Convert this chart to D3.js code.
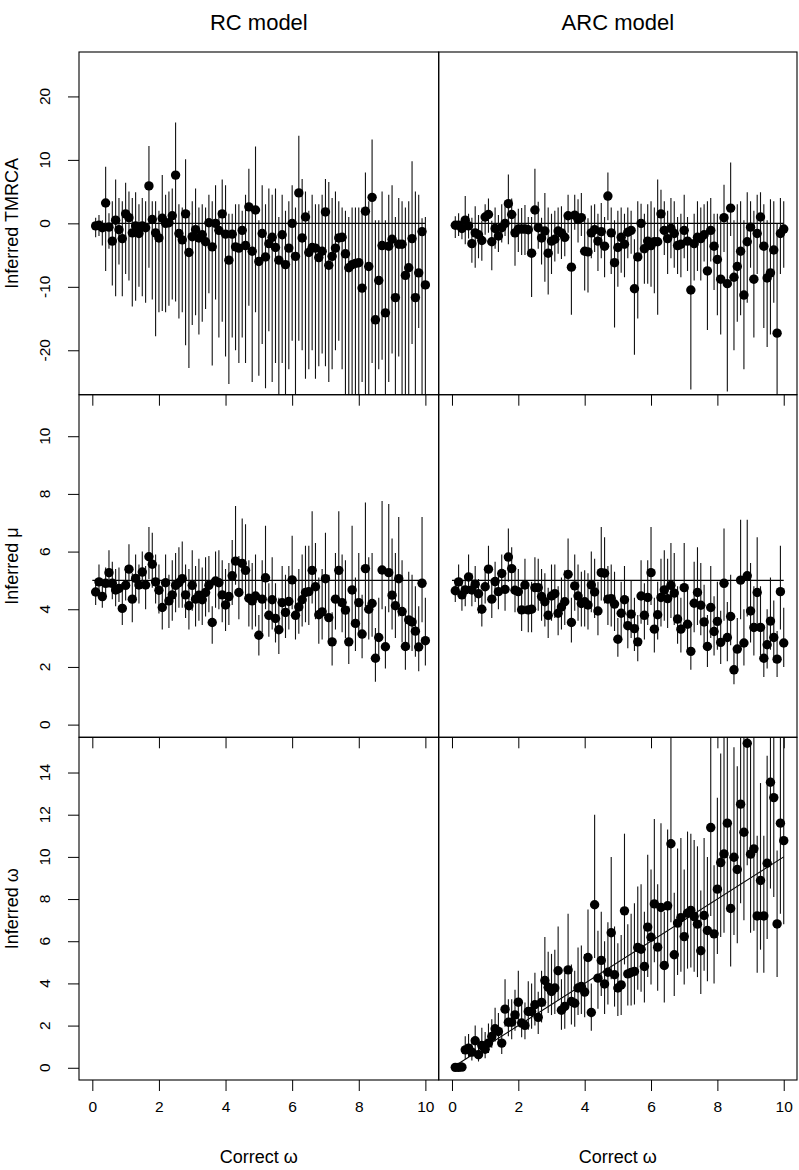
<!DOCTYPE html>
<html><head><meta charset="utf-8">
<script src="https://cdn.jsdelivr.net/npm/d3@7"></script>
<style>body{margin:0;background:#fff}svg{display:block}text{font-family:"Liberation Sans",Arial,sans-serif;fill:#000}</style>
</head><body><svg id="c" width="799" height="1170"></svg>
<script>
const omega = [0.1,0.2,0.3,0.4,0.5,0.6,0.7,0.8,0.9,1.0,1.1,1.2,1.3,1.4,1.5,1.6,1.7,1.8,1.9,2.0,
2.1,2.2,2.3,2.4,2.5,2.6,2.7,2.8,2.9,3.0,3.1,3.2,3.3,3.4,3.5,3.6,3.7,3.8,3.9,4.0,
4.1,4.2,4.3,4.4,4.5,4.6,4.7,4.8,4.9,5.0,5.1,5.2,5.3,5.4,5.5,5.6,5.7,5.8,5.9,6.0,
6.1,6.2,6.3,6.4,6.5,6.6,6.7,6.8,6.9,7.0,7.1,7.2,7.3,7.4,7.5,7.6,7.7,7.8,7.9,8.0,
8.1,8.2,8.3,8.4,8.5,8.6,8.7,8.8,8.9,9.0,9.1,9.2,9.3,9.4,9.5,9.6,9.7,9.8,9.9,10.0];

const rcTmrca = [-0.4,-0.3,-0.7,3.2,-0.6,-2.8,0.5,-1.0,-2.4,1.5,
0.9,-1.5,-0.4,-1.6,-0.4,-0.7,5.9,0.6,-1.5,-2.3,
0.8,0.0,0.1,1.2,7.6,-1.6,-2.6,1.5,-4.6,-2.1,
-1.0,-2.3,-1.8,-2.9,0.1,-3.7,0.0,-1.1,1.5,-1.7,
-5.8,-1.7,-3.7,-3.9,-1.1,-3.5,2.6,-4.4,2.1,-6.0,
-1.6,-5.3,-3.2,-2.2,-3.8,-5.8,-1.8,-6.5,-3.9,0.0,
-5.2,4.8,-2.3,1.0,-4.6,-3.8,-3.9,-5.4,-4.4,1.8,
-6.6,-5.2,-3.9,-2.3,-2.2,-4.8,-7.0,-6.5,-6.3,-6.2,
-10.2,1.9,-6.8,4.1,-15.2,-9.0,-3.5,-14.1,-3.6,-2.5,
-11.7,-3.3,-3.3,-8.2,-7.0,-2.4,-11.7,-7.8,-1.3,-9.7];
const rcTmrcaHi = [0.9,1.3,0.5,8.9,1.6,3.5,6.9,4.0,3.5,6.4,
5.0,4.0,4.9,3.0,4.0,3.5,12.2,3.5,3.5,2.0,
7.6,4.5,5.0,5.5,15.9,3.0,2.5,10.1,2.0,3.5,
5.5,2.5,3.0,2.5,4.5,3.5,6.0,2.0,6.9,6.0,
1.5,1.5,3.0,3.0,2.0,4.5,8.6,2.0,12.1,0.5,
6.0,3.0,5.5,4.5,5.5,1.0,4.5,2.0,3.5,6.0,
2.5,13.8,7.0,5.0,2.0,4.5,3.0,3.0,4.5,7.0,
6.5,4.0,5.0,3.5,2.5,2.0,1.0,2.5,2.5,2.5,
2.5,8.0,3.5,13.2,0.5,0.5,5.0,0.5,4.5,6.0,
1.0,4.0,3.5,2.5,3.5,9.8,5.0,4.5,0.8,1.0];
const rcTmrcaLo = [-2.2,-2.0,-3.5,-7.5,-4.0,-9.8,-11.5,-6.5,-11.5,-8.0,
-9.0,-13.1,-12.2,-10.0,-11.5,-12.5,-7.0,-12.0,-17.8,-14.0,
-13.8,-14.0,-13.0,-12.0,-12.3,-15.0,-14.0,-19.2,-22.8,-16.0,
-14.5,-17.5,-15.5,-13.5,-11.0,-22.4,-12.0,-18.0,-15.5,-21.0,
-25.3,-18.0,-20.0,-22.0,-18.0,-22.0,-13.0,-25.0,-14.0,-24.0,
-19.0,-26.0,-17.0,-25.0,-22.0,-28,-22.0,-28,-23.0,-18.5,
-28,-18.5,-20.0,-24.5,-23.0,-20.0,-24.5,-22.5,-20.5,-22.5,
-25.0,-23.0,-20.0,-18.5,-23.0,-28,-28,-28,-28,-28,
-25.0,-28,-28,-22.0,-28,-23.0,-21.5,-28,-25.0,-20.5,
-28,-21.0,-28,-28,-28,-19.0,-28,-16.5,-28,-28];

const arcTmrca = [-0.3,-0.3,-0.8,0.5,-0.4,-3.2,-1.5,-1.8,-2.7,1.0,
1.4,-2.9,-0.8,-2.0,-0.7,0.0,3.1,1.4,-1.5,-0.9,
-0.9,-0.9,-1.0,-4.7,2.1,-0.7,-2.3,-1.2,-4.7,-2.8,
-2.5,-1.2,-1.5,-2.2,1.2,-6.9,1.3,0.6,0.9,-4.4,
-4.5,-1.5,-1.0,-2.8,-1.3,-3.6,4.3,-1.5,-6.2,-3.8,
-2.2,-3.3,-1.4,-1.1,-10.3,-5.3,0.0,-4.0,-2.8,-3.5,
-2.9,-2.9,1.5,-1.1,-2.4,-0.8,-1.6,-3.5,-3.3,-1.1,
-2.8,-10.5,-3.2,-2.2,-2.4,-1.8,-7.5,-1.1,-3.6,-5.7,
-8.8,0.9,-9.5,2.4,-8.5,-6.8,-4.4,-11.3,-2.9,-0.6,
-8.8,-1.6,1.0,-3.6,-8.6,-7.8,-4.2,-17.3,-1.6,-0.9];
const arcTmrcaHi = [1.1,1.6,0.9,4.3,1.5,0.9,2.7,1.3,0.4,3.0,
3.9,0.4,2.5,1.3,3.0,2.7,7.7,3.9,1.0,2.3,
2.4,2.9,1.0,1.0,8.6,3.4,0.9,4.8,2.5,1.5,
2.0,2.5,2.7,1.0,4.5,1.6,4.5,3.8,4.8,0.5,
0.8,2.8,3.0,1.5,3.2,1.0,8.0,2.5,0.5,2.0,
2.5,1.5,2.5,2.0,-2.5,3.5,3.1,1.5,3.0,3.5,
2.5,6.9,5.3,3.5,2.0,4.0,3.5,1.0,1.5,4.5,
1.0,-2.5,1.5,3.5,2.5,3.0,3.5,4.0,1.5,1.5,
0.5,6.1,0.5,9.6,0.5,3.0,3.5,0.5,4.9,3.5,
2.0,4.5,4.9,3.0,0.5,3.8,3.5,0.0,4.0,3.5];
const arcTmrcaLo = [-2.3,-2.0,-2.5,-3.3,-2.4,-6.2,-7.0,-5.5,-5.9,-1.8,
-1.5,-7.4,-4.0,-4.5,-3.0,-2.0,-3.3,-1.5,-6.7,-4.5,
-5.0,-5.0,-5.2,-11.6,-1.0,-4.0,-6.5,-9.2,-11.2,-8.0,
-6.0,-4.8,-5.6,-5.2,-1.5,-14.4,-1.0,-3.0,-2.0,-10.6,
-10.9,-5.5,-4.5,-7.5,-5.5,-8.5,0.5,-8.0,-16.4,-10.0,
-7.8,-8.5,-5.5,-4.8,-20.7,-15.0,-5.0,-9.5,-9.5,-10.0,
-11.0,-14.4,-1.5,-5.0,-8.0,-5.5,-7.0,-8.0,-8.5,-5.5,
-7.5,-26.2,-9.0,-7.5,-9.0,-6.0,-16.8,-6.0,-10.5,-14.5,
-17.5,-4.5,-26.5,-2.0,-20.0,-15.5,-14.5,-23.0,-12.5,-7.0,
-18.0,-8.0,-4.0,-16.5,-19.5,-17.5,-12.5,-28,-8.0,-7.0];

const rcMu = [4.60,4.95,4.44,4.90,5.27,4.90,4.67,4.72,4.03,4.83,
5.39,4.35,5.07,4.84,5.29,4.84,5.82,5.56,4.95,4.66,
4.06,4.92,4.29,4.50,4.83,4.92,5.06,4.50,4.12,4.83,
4.35,4.49,4.33,4.58,4.83,3.54,4.98,4.92,4.50,4.15,
4.44,5.16,5.67,4.58,5.59,5.35,4.38,4.29,4.46,3.10,
4.35,5.09,3.79,4.33,3.68,3.29,4.23,3.89,4.27,5.02,
3.79,4.08,4.33,4.58,4.61,5.35,4.78,3.81,3.91,5.06,
3.71,2.87,4.35,5.35,4.23,3.97,2.87,4.67,3.51,4.23,
3.14,5.41,4.00,4.20,2.30,3.02,5.36,2.70,5.27,4.49,
4.12,5.06,3.92,2.71,3.63,3.56,3.24,2.69,4.90,2.91];
const rcMuHi = [5.05,5.55,4.85,5.45,6.05,5.65,5.40,5.45,4.65,5.50,
6.25,5.25,5.90,5.55,6.00,5.50,6.85,6.65,5.90,5.55,
4.90,5.90,5.20,5.70,5.95,6.15,6.35,5.55,5.40,6.05,
5.50,5.75,5.45,5.80,5.85,4.10,6.00,6.05,5.70,5.40,
5.60,6.40,7.58,5.85,7.15,6.95,5.70,5.60,5.90,3.80,
5.70,6.90,4.90,5.80,4.90,4.40,5.50,5.20,5.50,6.55,
5.10,5.40,5.90,6.20,6.20,7.40,6.30,5.10,5.40,6.65,
5.20,3.90,5.95,7.40,5.90,5.70,4.10,6.90,5.10,5.95,
4.50,7.70,5.80,5.95,3.35,4.40,7.75,4.10,7.65,6.45,
5.95,7.20,5.70,4.00,5.30,5.20,4.80,4.10,7.20,4.40];
const rcMuLo = [4.15,4.45,4.05,4.45,4.75,4.35,4.10,4.25,3.45,4.30,
4.75,3.55,4.40,4.20,4.75,4.00,5.05,4.75,4.20,3.85,
3.30,4.10,3.35,3.60,3.90,4.05,4.05,3.70,3.30,3.95,
3.40,3.60,3.45,3.75,3.90,2.80,4.05,4.00,3.55,3.25,
3.45,4.15,4.85,3.65,4.60,4.40,3.40,3.30,3.40,2.40,
3.20,4.00,3.05,3.30,2.85,2.45,3.30,3.00,3.30,4.00,
2.95,3.15,3.40,3.55,3.45,4.20,3.65,2.80,2.95,3.85,
2.80,2.05,3.30,4.10,3.20,3.00,2.10,3.50,2.55,3.15,
2.30,4.10,2.95,3.05,1.49,2.20,4.00,1.95,3.90,3.30,
3.00,3.75,2.85,1.90,2.60,2.55,2.35,1.85,3.55,2.05];

const arcMu = [4.64,4.95,4.50,4.67,5.12,4.67,4.87,4.54,4.00,4.78,
5.39,4.35,4.96,4.61,5.24,4.69,5.81,5.41,4.66,4.61,
3.98,4.84,3.98,4.00,4.75,4.75,4.44,4.26,3.79,4.46,
4.54,3.86,4.08,4.26,5.21,3.54,4.81,4.46,4.20,4.26,
4.15,4.84,4.60,3.94,5.27,5.25,4.35,4.37,4.18,2.96,
3.86,4.33,3.43,3.83,3.33,2.87,4.46,3.79,4.41,5.27,
3.31,3.81,4.41,4.67,4.37,4.83,4.56,3.66,3.31,4.75,
3.48,2.54,4.21,4.58,4.14,3.56,2.71,4.06,3.23,3.58,
2.85,4.90,3.02,3.75,1.90,2.62,5.01,2.83,5.16,3.94,
3.37,4.58,3.37,2.30,2.77,3.59,3.02,2.27,4.61,2.83];
const arcMuHi = [5.00,5.55,4.95,5.20,5.90,5.25,5.50,5.05,4.55,5.30,
6.20,5.05,5.65,5.20,5.90,5.35,6.80,6.15,5.50,5.40,
4.90,5.75,4.85,4.95,5.80,5.75,5.40,5.25,4.75,5.55,
5.55,4.80,5.10,5.35,6.45,4.40,5.90,5.55,5.30,5.35,
5.25,6.00,5.75,4.95,6.85,6.50,5.50,5.55,5.30,3.70,
4.95,5.50,4.45,5.00,4.40,3.80,5.70,4.90,5.70,6.85,
4.40,4.95,5.75,6.05,5.75,6.30,5.95,4.80,4.40,6.30,
4.70,3.45,5.65,6.15,5.60,4.85,3.80,5.50,4.45,4.95,
3.95,6.80,4.25,5.20,2.70,3.70,7.10,4.00,7.10,5.60,
4.80,6.50,4.80,3.30,4.00,5.10,4.30,3.25,6.20,4.05];
const arcMuLo = [4.25,4.50,3.95,4.10,4.60,4.10,4.25,3.85,3.40,4.20,
4.80,3.70,4.40,4.00,4.55,3.95,4.95,4.70,3.90,3.90,
3.25,4.05,3.20,3.20,3.90,3.95,3.60,3.40,3.00,3.60,
3.70,3.10,3.30,3.45,4.30,2.85,3.95,3.60,3.40,3.40,
3.30,3.90,3.70,3.10,4.30,4.20,3.45,3.40,3.25,2.35,
3.00,3.40,2.65,3.00,2.55,2.20,3.50,2.95,3.45,4.15,
2.50,2.95,3.40,3.60,3.35,3.70,3.45,2.80,2.50,3.60,
2.60,1.90,3.20,3.45,3.10,2.65,2.00,3.00,2.40,2.60,
2.10,3.60,2.20,2.75,1.40,1.90,3.65,2.05,3.75,2.85,
2.40,3.30,2.40,1.65,1.95,2.60,2.15,1.65,3.30,2.00];

const arcOmega = [0.02,0.02,0.03,0.85,0.93,0.74,1.28,0.62,1.06,0.88,
1.17,1.48,1.85,1.72,1.17,2.78,2.16,2.16,2.51,3.11,
2.12,2.01,2.67,2.67,2.99,2.39,3.10,4.14,3.82,3.62,
3.78,4.60,2.73,2.91,4.64,3.14,3.06,3.78,3.85,3.59,
5.23,2.62,7.73,4.25,5.09,3.97,4.53,6.40,4.41,3.78,
3.93,7.44,4.45,4.52,4.57,5.70,5.62,4.80,6.67,6.19,
7.77,5.72,7.60,4.85,7.68,10.62,5.36,6.86,7.12,6.22,
7.33,7.46,7.17,6.81,5.55,7.22,6.51,11.39,6.35,8.47,
9.73,10.14,11.60,7.55,9.98,9.40,12.50,11.17,15.39,10.13,
10.38,7.20,8.88,7.20,9.70,13.54,12.81,6.82,11.60,10.77];
const arcOmegaHi = [0.15,0.2,0.3,1.5,1.6,1.4,2.0,1.3,1.9,1.7,
2.1,2.3,2.85,2.6,1.9,4.2,3.25,3.25,3.7,4.6,
3.2,3.1,4.1,4.0,4.5,3.6,4.6,6.2,5.5,5.4,
5.6,6.7,4.2,4.5,7.3,4.9,4.6,5.7,5.8,5.4,
7.5,4.0,12.0,6.5,7.4,6.0,6.9,10.0,6.7,5.9,
6.3,11.1,6.8,7.3,7.8,8.6,8.7,7.4,10.1,9.4,
11.8,8.7,11.6,7.4,11.3,16.5,8.3,10.4,10.9,9.4,
11.2,11.1,10.8,10.5,8.4,10.9,10.0,16.5,9.6,12.8,
14.9,16.5,16.5,11.5,15.2,14.3,16.5,16.5,16.5,15.3,
16.5,11.0,13.5,11.0,14.8,16.5,16.5,10.3,16.5,16.5];
const arcOmegaLo = [0.0,0.0,0.0,0.4,0.5,0.35,0.75,0.3,0.6,0.45,
0.7,0.95,1.25,1.1,0.65,1.95,1.5,1.35,1.75,2.2,
1.45,1.35,1.8,1.85,2.0,1.6,2.15,2.9,2.6,2.5,
2.55,3.2,1.8,1.85,3.15,2.05,1.95,2.5,2.55,2.4,
3.5,1.75,5.2,2.8,3.4,2.55,3.0,4.2,2.9,2.45,
2.5,4.9,2.95,2.95,3.0,3.7,3.6,3.1,4.3,3.95,
5.0,3.65,4.85,3.1,4.9,6.9,3.4,4.4,4.55,3.95,
4.7,4.75,4.55,4.3,3.5,4.6,4.1,7.2,4.0,5.4,
6.2,6.4,7.4,4.8,6.3,5.9,7.8,7.0,9.6,6.4,
6.5,4.5,5.6,4.5,6.1,8.5,8.1,4.3,7.3,6.8];

const xTicks = [0,2,4,6,8,10];
const tmrcaTicks = [-20,-10,0,10,20];
const muTicks = [0,2,4,6,8,10];
const omegaTicks = [0,2,4,6,8,10,12,14];
const refX = [0,10];
const tmrcaRef = [0,0];
const muRef = [5,5];
const omegaRef = [0,10];
const colTitles = ["RC model","ARC model"];
const rowTitles = ["Inferred TMRCA","Inferred \u03bc","Inferred \u03c9"];
const xTitle = "Correct \u03c9";

const svg = d3.select('#c');
const colX = [[79,438.7],[438.7,797]];
const rowY = [[52,394.7],[394.7,737.3],[737.3,1080]];
const yDomains = [[-27,27],[-0.44,11.44],[-0.58,15.67]];
const yTickSets = [tmrcaTicks, muTicks, omegaTicks];
const xs = colX.map(r => d3.scaleLinear().domain([-0.4,10.4]).range(r));
const ys = rowY.map((r,i) => d3.scaleLinear().domain(yDomains[i]).range([r[1], r[0]]));

const panels = [
  {row:0,col:0,v:rcTmrca,lo:rcTmrcaLo,hi:rcTmrcaHi,ref:tmrcaRef},
  {row:0,col:1,v:arcTmrca,lo:arcTmrcaLo,hi:arcTmrcaHi,ref:tmrcaRef},
  {row:1,col:0,v:rcMu,lo:rcMuLo,hi:rcMuHi,ref:muRef},
  {row:1,col:1,v:arcMu,lo:arcMuLo,hi:arcMuHi,ref:muRef},
  {row:2,col:0,v:null},
  {row:2,col:1,v:arcOmega,lo:arcOmegaLo,hi:arcOmegaHi,ref:omegaRef}
];

const defs = svg.append('defs');
panels.forEach((p,i) => {
  const x = xs[p.col], y = ys[p.row];
  const [x0,x1] = colX[p.col], [y0,y1] = rowY[p.row];
  defs.append('clipPath').attr('id','clip'+i).append('rect')
    .attr('x',x0).attr('y',y0).attr('width',x1-x0).attr('height',y1-y0);
  const g = svg.append('g').attr('clip-path',`url(#clip${i})`);
  if (p.v) {
    g.append('line').attr('x1',x(refX[0])).attr('x2',x(refX[1]))
      .attr('y1',y(p.ref[0])).attr('y2',y(p.ref[1]))
      .attr('stroke','#000').attr('stroke-width',1.1);
    g.selectAll('line.w').data(omega).join('line').attr('class','w')
      .attr('x1',d=>x(d)).attr('x2',d=>x(d))
      .attr('y1',(d,j)=>y(p.lo[j])).attr('y2',(d,j)=>y(p.hi[j]))
      .attr('stroke','#111').attr('stroke-width',1.1);
    g.selectAll('circle').data(omega).join('circle')
      .attr('cx',d=>x(d)).attr('cy',(d,j)=>y(p.v[j])).attr('r',4.7).attr('fill','#000');
  }
  const ax = svg.append('g').attr('transform',`translate(0,${y1})`)
    .call(d3.axisBottom(x).tickValues(xTicks).tickSize(11).tickPadding(10)
      .tickFormat(p.row===2 ? d=>String(d) : ()=>''));
  ax.select('.domain').remove();
  ax.selectAll('line').attr('stroke','#000').attr('stroke-width',1);
  ax.selectAll('text').attr('font-size',15.5).attr('font-family','"Liberation Sans",Arial,sans-serif');
  if (p.col===0) {
    const ay = svg.append('g').attr('transform',`translate(${x0},0)`)
      .call(d3.axisLeft(y).tickValues(yTickSets[p.row]).tickSize(11).tickFormat(()=>''));
    ay.select('.domain').remove();
    ay.selectAll('line').attr('stroke','#000').attr('stroke-width',1);
    svg.append('g').selectAll('text').data(yTickSets[p.row]).join('text')
      .attr('transform',t=>`translate(50,${y(t)}) rotate(-90)`)
      .attr('text-anchor','middle').attr('font-size',15.5).text(t=>String(t));
    svg.append('text').attr('transform',`translate(18,${(y0+y1)/2}) rotate(-90)`)
      .attr('text-anchor','middle').attr('font-size',18).text(rowTitles[p.row]);
  }
  svg.append('rect').attr('x',x0).attr('y',y0).attr('width',x1-x0).attr('height',y1-y0)
    .attr('fill','none').attr('stroke','#000').attr('stroke-width',1.1);
});

colTitles.forEach((t,c) => {
  const cx = (colX[c][0]+colX[c][1])/2;
  svg.append('text').attr('x',cx).attr('y',30).attr('text-anchor','middle')
    .attr('font-size',22).text(t);
  svg.append('text').attr('x',cx).attr('y',1163).attr('text-anchor','middle')
    .attr('font-size',18).text(xTitle);
});
</script></body></html>
